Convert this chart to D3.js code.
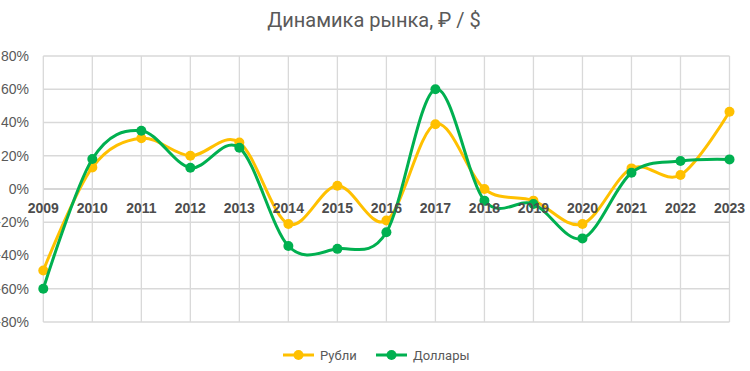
<!DOCTYPE html>
<html>
<head>
<meta charset="utf-8">
<script src="https://cdn.jsdelivr.net/npm/d3@7"></script>
<style>
  body { margin: 0; background: #fff; }
  svg { display: block; }
</style>
</head>
<body>
<div id="chart"></div>
<script>
'use strict';

// data
var years = ['2009', '2010', '2011', '2012', '2013', '2014', '2015', '2016',
             '2017', '2018', '2019', '2020', '2021', '2022', '2023'];
var rubles = [-49, 13, 30.5, 20, 28, -21, 2, -19, 39, 0, -7, -21, 12.4, 8.4, 46.5];
var dollars = [-60, 18, 35, 12.8, 24.8, -34.3, -36, -26, 60, -7, -9, -29.7, 9.8, 16.8, 17.8];
var yTicks = [-80, -60, -40, -20, 0, 20, 40, 60, 80];
var title = 'Динамика рынка, ₽ / $';
var seriesNames = ['Рубли', 'Доллары'];
var seriesColors = ['#FFC000', '#00B050'];

var width = 750,
    height = 371;
var plotLeft = 43.3,
    plotRight = 729.5,
    plotTop = 56,
    plotBottom = 322;

var svg = d3.select('#chart').append('svg')
    .attr('width', width)
    .attr('height', height)
    .style('font-family', 'Roboto, "Liberation Sans", sans-serif');

var x = d3.scalePoint()
    .domain(years)
    .range([plotLeft, plotRight]);

var y = d3.scaleLinear()
    .domain([-80, 80])
    .range([plotBottom, plotTop]);

// grid
var gGrid = svg.append('g');
gGrid.selectAll('.hgrid').data(yTicks).enter().append('line')
    .attr('class', 'hgrid')
    .attr('x1', plotLeft)
    .attr('x2', plotRight)
    .attr('y1', function(d){ return y(d); })
    .attr('y2', function(d){ return y(d); })
    .style('stroke', function(d){ return d === 0 ? '#c8c8c8' : '#d9d9d9'; })
    .style('stroke-width', 1.3);

gGrid.selectAll('.vgrid').data(years).enter().append('line')
    .attr('class', 'vgrid')
    .attr('x1', function(d){ return x(d); })
    .attr('x2', function(d){ return x(d); })
    .attr('y1', plotTop)
    .attr('y2', plotBottom)
    .style('stroke', '#d9d9d9')
    .style('stroke-width', 1.3);

// y labels
svg.append('g').selectAll('text').data(yTicks).enter().append('text')
    .attr('x', 29)
    .attr('y', function(d){ return y(d); })
    .attr('dy', '0.35em')
    .attr('text-anchor', 'end')
    .style('font-family', '"Liberation Sans", Arial, sans-serif')
    .style('font-size', '14px')
    .style('fill', '#595959')
    .text(function(d){ return d + '%'; });

// series
var series = [rubles, dollars];
var line = d3.line()
    .x(function(d, i){ return x(years[i]); })
    .y(function(d){ return y(d); })
    .curve(d3.curveCatmullRom.alpha(0));

var gSeries = svg.append('g');
series.forEach(function(values, s){
    gSeries.append('path')
        .datum(values)
        .attr('d', line)
        .style('fill', 'none')
        .style('stroke', seriesColors[s])
        .style('stroke-width', 3)
        .style('stroke-linejoin', 'round');
    gSeries.selectAll('.dot' + s).data(values).enter().append('circle')
        .attr('class', 'dot' + s)
        .attr('cx', function(d, i){ return x(years[i]); })
        .attr('cy', function(d){ return y(d); })
        .attr('r', 5)
        .style('fill', seriesColors[s]);
});

// x labels, sitting just under the zero line
svg.append('g').selectAll('text').data(years).enter().append('text')
    .attr('x', function(d){ return x(d); })
    .attr('y', y(0) + 19)
    .attr('dy', '0.35em')
    .attr('text-anchor', 'middle')
    .style('font-family', '"Liberation Sans", Arial, sans-serif')
    .style('font-weight', 'bold')
    .style('font-size', '14px')
    .style('fill', '#4d4d4d')
    .text(function(d){ return d; });

// title
svg.append('text')
    .attr('x', 374)
    .attr('y', 27)
    .attr('text-anchor', 'middle')
    .style('font-size', '20px')
    .style('fill', '#595959')
    .text(title);

// legend
var legendX = [283, 376];
var gLegend = svg.append('g');
seriesNames.forEach(function(name, s){
    var lx = legendX[s];
    gLegend.append('line')
        .attr('x1', lx)
        .attr('x2', lx + 31)
        .attr('y1', 355)
        .attr('y2', 355)
        .style('stroke', seriesColors[s])
        .style('stroke-width', 3);
    gLegend.append('circle')
        .attr('cx', lx + 15.5)
        .attr('cy', 355)
        .attr('r', 5)
        .style('fill', seriesColors[s]);
    gLegend.append('text')
        .attr('x', lx + 37)
        .attr('y', 359.5)
        .style('font-size', '13px')
        .style('fill', '#595959')
        .text(name);
});
</script>
</body>
</html>
